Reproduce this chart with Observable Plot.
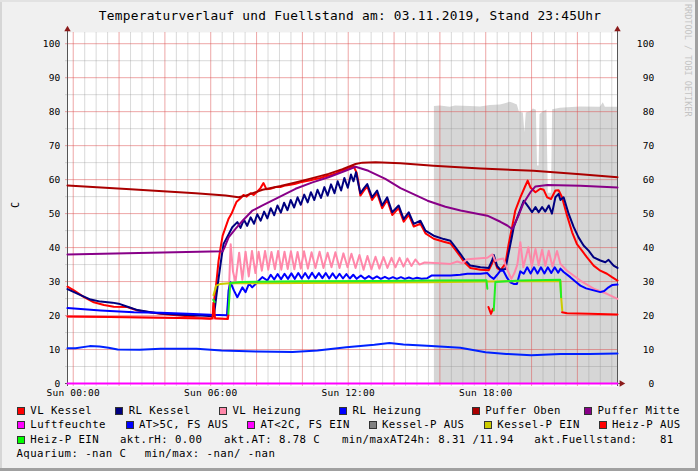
<!DOCTYPE html>
<html><head><meta charset="utf-8">
<script src="https://cdn.jsdelivr.net/npm/d3@7"></script>
<script src="https://cdn.jsdelivr.net/npm/@observablehq/plot@0.6"></script>
<style>
html,body{margin:0;padding:0;background:#f0f0f0;}
#wrap{position:relative;width:698px;height:471px;background:#f0f0f0;overflow:hidden;font-family:"DejaVu Sans Mono",monospace;color:#000;}
#wrap svg{position:absolute;left:0;top:0;}
.t{position:absolute;white-space:pre;line-height:1;transform:translateY(-50%);}
.lg{font-size:10.7px;letter-spacing:0.44px;}
.bx{position:absolute;width:6px;height:6px;border:1px solid #333;transform:translateY(-50%);}
</style>
</head><body>
<div id="wrap"></div>
<script>
// ---- data (hours since Sun 00:00, value) ----
const xDomain = [-0.25, 23.75];
const yDomain = [0, 103.3];
const xLabelHours = [0, 6, 12, 18];
const xLabels = ["Sun 00:00", "Sun 06:00", "Sun 12:00", "Sun 18:00"];
const yTicks = [0, 10, 20, 30, 40, 50, 60, 70, 80, 90, 100];
const majorYGrid = [10, 20, 30, 40, 50, 60, 70, 80, 90, 100];
const minorYGrid = [5, 15, 25, 35, 45, 55, 65, 75, 85, 95];
const majorXGrid = [0, 2, 4, 6, 8, 10, 12, 14, 16, 18, 20, 22];

const fuellstand = [[15.76,81.5],[16.02,81.7],[16.46,81.3],[16.68,81.7],[17.33,81.5],[17.77,81.4],[18.20,81.8],[18.64,82.0],[18.86,82.3],[19.07,82.8],[19.20,82.5],[19.38,82.0],[19.47,79.8],[19.64,79.6],[19.71,73.8],[19.77,79.6],[19.95,80.0],[20.08,80.8],[20.21,80.4],[20.26,64.0],[20.33,64.0],[20.37,79.2],[20.52,80.0],[20.67,80.5],[20.73,56.0],[20.87,56.0],[20.92,80.6],[21.26,81.0],[22.13,81.4],[23.00,81.3],[23.13,82.6],[23.22,81.3],[23.75,81.3]];

const vlKessel = [[-0.25,28.5],[0.03,27.4],[0.47,25.4],[0.90,23.9],[1.34,23.1],[1.77,22.6],[2.36,22.5],[2.80,21.5],[3.81,20.5],[4.98,19.8],[5.99,19.0],[6.08,19.5],[6.14,24.0],[6.25,30.0],[6.34,36.0],[6.43,40.0],[6.52,43.5],[6.65,46.0],[6.78,48.5],[6.91,50.0],[7.00,51.5],[7.13,53.5],[7.30,54.5],[7.43,55.5],[7.57,55.0],[7.74,56.0],[7.87,55.5],[8.04,56.5],[8.17,57.5],[8.30,59.0],[8.43,57.2],[8.61,57.3],[8.83,57.8],[9.04,57.8],[9.26,58.3],[9.48,58.5],[9.70,58.8],[9.92,59.2],[10.13,59.5],[10.35,59.8],[10.57,60.2],[10.79,60.5],[11.01,61.0],[11.22,61.3],[11.44,61.8],[11.66,62.6],[11.88,63.0],[12.10,63.5],[12.23,64.0],[12.37,62.0],[12.45,59.0],[12.53,55.3],[12.69,56.8],[12.83,58.0],[13.04,54.0],[13.26,56.0],[13.48,51.6],[13.70,54.0],[13.92,49.6],[14.20,51.6],[14.42,47.6],[14.64,49.6],[14.86,46.2],[15.15,47.0],[15.37,44.2],[15.73,42.6],[16.17,41.7],[16.46,41.2],[16.68,39.3],[16.90,37.3],[17.04,35.9],[17.33,34.0],[17.77,33.5],[18.13,33.3],[18.28,35.4],[18.35,36.8],[18.50,34.0],[18.64,33.3],[18.86,35.3],[19.00,41.0],[19.15,46.0],[19.29,50.9],[19.51,54.8],[19.73,58.2],[19.83,59.7],[19.95,57.7],[20.17,56.3],[20.38,57.3],[20.53,57.0],[20.68,54.8],[20.85,54.3],[21.04,56.8],[21.18,56.9],[21.33,54.8],[21.55,49.4],[21.77,44.5],[21.98,41.0],[22.20,39.1],[22.42,37.1],[22.71,34.7],[23.00,33.2],[23.29,32.3],[23.51,31.3],[23.75,30.3]];

const rlKessel = [[-0.25,27.8],[0.32,26.0],[0.76,24.7],[1.19,24.1],[1.71,23.8],[1.98,23.5],[2.37,22.6],[2.81,21.6],[3.38,21.0],[3.81,20.6],[4.68,20.2],[5.56,20.0],[6.09,19.8],[6.14,20.0],[6.24,25.4],[6.35,31.3],[6.47,37.1],[6.56,41.1],[6.79,44.0],[6.94,46.0],[7.16,47.5],[7.30,45.8],[7.45,48.2],[7.59,46.4],[7.74,48.9],[7.89,47.0],[8.03,49.8],[8.18,47.9],[8.33,50.6],[8.47,48.6],[8.62,51.6],[8.77,49.5],[8.91,52.4],[9.06,50.3],[9.20,53.2],[9.35,51.0],[9.49,54.0],[9.64,51.8],[9.79,54.8],[9.93,52.6],[10.08,55.6],[10.23,53.3],[10.37,56.3],[10.52,54.0],[10.66,57.0],[10.81,54.6],[10.96,57.8],[11.10,55.3],[11.25,58.6],[11.40,56.0],[11.54,59.5],[11.69,56.8],[11.83,60.5],[11.98,57.6],[12.12,61.5],[12.23,59.5],[12.34,62.2],[12.45,58.5],[12.53,56.0],[12.69,57.5],[12.83,58.7],[13.04,54.8],[13.26,56.8],[13.48,52.4],[13.70,54.8],[13.92,50.4],[14.20,52.4],[14.42,48.4],[14.64,50.4],[14.86,47.0],[15.15,47.9],[15.37,45.0],[15.73,43.5],[16.17,42.5],[16.46,42.0],[16.68,40.1],[16.90,38.1],[17.04,36.7],[17.33,34.7],[17.77,34.2],[18.13,34.0],[18.28,36.2],[18.35,37.8],[18.50,34.5],[18.64,33.5],[18.86,33.7],[19.00,38.5],[19.15,43.5],[19.22,46.0],[19.44,49.9],[19.66,53.8],[19.87,51.9],[20.02,50.4],[20.17,51.9],[20.31,50.4],[20.46,51.9],[20.60,50.6],[20.75,52.4],[20.89,50.0],[21.04,54.8],[21.18,55.8],[21.26,54.0],[21.40,54.8],[21.62,49.9],[21.84,46.0],[22.05,43.0],[22.27,40.6],[22.49,39.1],[22.71,37.1],[23.00,36.2],[23.22,35.7],[23.36,36.4],[23.58,34.7],[23.75,34.0]];

const vlHeizung = [[-0.25,19.7],[2.50,19.5],[5.98,19.1],[6.70,19.0],[6.78,25.0],[6.87,41.0],[6.97,33.0],[7.08,29.8],[7.24,38.5],[7.38,30.5],[7.52,38.8],[7.66,31.5],[7.80,39.0],[7.95,32.5],[8.09,38.8],[8.23,33.2],[8.37,39.0],[8.51,33.5],[8.65,38.7],[8.80,33.6],[8.94,39.0],[9.08,33.5],[9.22,38.8],[9.36,33.7],[9.50,38.9],[9.65,33.6],[9.79,38.7],[9.93,33.8],[10.07,38.9],[10.24,33.8],[10.40,38.6],[10.57,34.0],[10.75,38.8],[10.92,34.0],[11.10,38.5],[11.27,34.2],[11.44,38.6],[11.62,34.0],[11.79,38.3],[11.97,34.2],[12.14,38.2],[12.32,34.0],[12.49,37.8],[12.67,33.5],[12.84,37.5],[13.01,33.6],[13.19,37.3],[13.36,33.8],[13.54,37.2],[13.71,34.0],[13.89,37.0],[14.06,34.2],[14.24,37.0],[14.41,34.4],[14.58,36.8],[14.76,34.6],[14.93,36.5],[15.11,35.0],[15.33,35.6],[15.80,35.5],[16.46,35.2],[16.76,35.9],[16.98,35.4],[17.20,36.6],[18.07,37.0],[18.29,38.0],[18.42,36.0],[18.55,36.5],[18.77,36.8],[18.94,33.5],[19.12,30.8],[19.25,32.5],[19.38,35.0],[19.51,41.6],[19.64,34.2],[19.86,40.1],[20.01,34.5],[20.17,39.6],[20.31,34.8],[20.46,39.4],[20.60,34.6],[20.75,39.1],[20.91,34.4],[21.11,39.0],[21.26,35.2],[21.55,33.2],[22.13,30.3],[22.71,27.9],[23.29,26.4],[23.75,24.9]];

const rlHeizung = [[-0.25,22.2],[1.19,21.5],[2.64,21.0],[3.81,20.8],[4.98,20.5],[5.99,20.2],[6.71,20.1],[6.78,27.4],[6.86,29.8],[7.01,27.4],[7.16,25.4],[7.38,28.3],[7.52,26.9],[7.67,29.4],[7.81,28.3],[8.03,29.8],[8.25,31.3],[8.47,30.3],[8.62,32.0],[8.77,30.6],[8.92,32.2],[9.07,30.7],[9.22,32.3],[9.37,30.8],[9.52,32.4],[9.67,30.8],[9.82,32.5],[9.97,30.9],[10.12,32.5],[10.27,30.9],[10.42,32.6],[10.57,31.0],[10.72,32.5],[10.87,31.0],[11.02,32.5],[11.17,30.9],[11.32,32.4],[11.47,30.9],[11.62,32.3],[11.77,30.9],[11.92,32.2],[12.07,30.9],[12.22,32.0],[12.37,30.8],[12.55,31.8],[12.72,30.8],[12.90,31.6],[13.07,30.8],[13.25,31.5],[13.42,30.8],[13.60,31.4],[13.77,30.8],[13.95,31.3],[14.12,30.8],[14.30,31.3],[14.47,30.8],[14.65,31.2],[14.82,30.8],[15.00,31.1],[15.20,30.8],[15.45,31.0],[15.65,31.8],[16.46,31.8],[16.89,32.0],[17.20,32.3],[17.77,32.3],[18.07,32.5],[18.20,31.5],[18.35,30.8],[18.50,32.0],[18.64,33.2],[18.77,33.2],[18.94,31.0],[19.07,29.8],[19.22,29.3],[19.36,29.3],[19.51,33.0],[19.66,32.3],[19.81,34.2],[19.96,32.4],[20.11,34.2],[20.26,32.4],[20.41,34.2],[20.56,32.4],[20.71,34.2],[20.86,32.5],[21.01,34.2],[21.16,32.6],[21.26,33.8],[21.40,32.8],[21.69,31.3],[21.91,30.0],[22.13,28.8],[22.38,28.0],[22.71,27.4],[23.00,26.9],[23.17,27.2],[23.36,28.3],[23.53,29.0],[23.75,29.1]];

const pufferOben = [[-0.25,58.3],[2.50,57.2],[5.34,56.0],[6.65,55.3],[7.21,54.8],[7.52,55.3],[8.26,57.0],[9.05,58.1],[9.70,59.2],[10.35,60.3],[11.14,61.7],[11.75,63.1],[12.32,64.6],[12.62,65.0],[13.19,65.1],[14.28,64.8],[15.72,64.1],[17.77,63.3],[20.08,62.6],[22.13,61.6],[23.75,60.7]];

const pufferMitte = [[-0.25,38.0],[3.38,38.5],[6.52,38.9],[6.60,40.0],[6.78,43.0],[7.08,45.5],[7.39,47.9],[7.82,50.9],[8.26,52.4],[8.96,54.8],[9.70,57.3],[10.44,59.2],[11.14,60.7],[11.88,62.6],[12.32,63.8],[12.88,62.6],[13.62,60.2],[14.28,57.5],[15.46,53.8],[16.24,52.0],[16.90,50.9],[18.07,49.4],[18.64,47.6],[18.94,46.5],[19.16,45.4],[19.43,49.4],[19.64,53.0],[19.95,56.3],[20.17,58.0],[20.69,58.4],[22.13,58.2],[23.75,57.7]];

const luftfeuchte = [[-0.25,0],[23.75,0]];

const aussenTemp = [[-0.25,10.4],[0.10,10.4],[0.72,11.0],[1.15,10.9],[1.54,10.5],[1.94,10.0],[2.90,9.9],[3.81,10.2],[5.38,10.2],[6.47,9.7],[8.00,9.4],[9.57,9.3],[10.66,9.7],[11.92,10.7],[13.14,11.4],[13.80,11.9],[14.41,11.5],[15.63,11.0],[16.89,10.5],[17.99,9.2],[18.90,8.7],[19.99,8.35],[21.26,8.7],[22.52,8.7],[23.75,8.8]];

const kesselPEin = [[6.12,26.0],[6.24,28.8],[6.43,29.3],[6.78,29.5],[9.92,29.6],[15.59,29.8],[18.07,30.0],[21.26,30.2],[21.29,25.4],[21.34,21.5]];

const heizPAus = [[-0.25,19.7],[2.50,19.5],[5.98,19.1],[6.08,19.2],[6.12,23.8],[6.19,19.2],[6.75,19.0],[6.77,20.2],[6.77,null],[18.12,22.5],[18.23,20.5],[18.32,22.0],[18.32,null],[21.33,21.0],[21.55,20.7],[22.50,20.5],[23.75,20.3]];

const heizPEin = [[6.11,24.6],[6.17,24.0],[6.17,null],[6.77,20.5],[6.85,29.6],[7.30,29.9],[9.92,30.1],[13.40,30.2],[15.59,30.3],[18.03,30.4],[18.07,27.9],[18.07,null],[18.35,21.5],[18.42,29.9],[19.51,30.3],[21.25,30.5],[21.29,25.4]];

const legendRows = [
  [["VL Kessel","#ff0000",30.3],["RL Kessel","#000080",128.7],["VL Heizung","#ff88aa",232.5],["RL Heizung","#0000ff",352.6],["Puffer Oben","#aa0000",485.3],["Puffer Mitte","#880088",597.5]],
  [["Luftfeuchte","#ff00ff",30.3],["AT>5C, FS AUS","#0000ff",139],["AT<2C, FS EIN","#ff00ff",260.5],["Kessel-P AUS","#808080",382],["Kessel-P EIN","#cccc00",497.3],["Heiz-P AUS","#ff0000",612]],
  [["Heiz-P EIN","#00ff00",30.3],["akt.rH: 0.00",null,120],["akt.AT: 8.78 C",null,224],["min/maxAT24h: 8.31 /11.94",null,342],["akt.Fuellstand:",null,534.3],["81",null,660]],
  [["Aquarium: -nan C",null,16.5],["min/max: -nan/ -nan",null,144.7]]
];
const legendRowY = [411.3, 425.4, 439.5, 453.7];
const titleText = "Temperaturverlauf und Fuellstand am: 03.11.2019, Stand 23:45Uhr";

// ---- chart ----
const minorXGrid = d3.range(0, 24, 0.5).filter(h => h % 2 !== 0);
const L = (data, color) => Plot.line(data, {x: d => d[0], y: d => d[1], stroke: color, strokeWidth: 2, strokeLinejoin: "round"});
const axisCol = "#555";
const arrowCol = "#8b1a1a";

const chart = Plot.plot({
  width: 698, height: 400,
  marginLeft: 67, marginRight: 81, marginTop: 32, marginBottom: 17,
  style: {background: "transparent", fontFamily: "'DejaVu Sans Mono', monospace", fontSize: "9.5px", color: "#000", overflow: "visible", letterSpacing: "0.2px"},
  x: {domain: xDomain, axis: null},
  y: {domain: yDomain, axis: null},
  marks: [
    Plot.frame({fill: "white", stroke: "none", insetBottom: -3}),
    Plot.areaY(fuellstand, {x: d => d[0], y: d => d[1], fill: "#d6d6d6"}),
    Plot.ruleX(minorXGrid, {stroke: "#8f8f8f", strokeOpacity: 0.33, insetBottom: -3}),
    Plot.ruleY(minorYGrid, {stroke: "#8f8f8f", strokeOpacity: 0.33, insetLeft: -2}),
    Plot.ruleX(majorXGrid, {stroke: "#de5050", strokeOpacity: 0.5, insetBottom: -3}),
    Plot.ruleY(majorYGrid, {stroke: "#de5050", strokeOpacity: 0.5, insetLeft: -2}),
    Plot.ruleX([xDomain[0], xDomain[1]], {stroke: axisCol, insetTop: -5, insetBottom: -3}),
    Plot.ruleY([0], {stroke: axisCol, insetLeft: -2, insetRight: -4}),
    L(vlKessel, "#ff0000"),
    L(rlKessel, "#000080"),
    L(vlHeizung, "#ff88aa"),
    L(rlHeizung, "#0000ff"),
    L(pufferOben, "#aa0000"),
    L(pufferMitte, "#880088"),
    L(luftfeuchte, "#ff00ff"),
    L(aussenTemp, "#0022ff"),
    L(kesselPEin, "#cccc00"),
    L(heizPAus, "#ff0000"),
    L(heizPEin, "#22ee22"),
    Plot.dot([xDomain[0], xDomain[1]], {x: d => d, y: () => yDomain[1], dy: -3, symbol: "triangle", r: 2.4, fill: arrowCol, stroke: "none"}),
    Plot.dot([xDomain[1]], {x: d => d, y: () => 0, dx: 4, rotate: 90, symbol: "triangle", r: 2.4, fill: arrowCol, stroke: "none"}),
    Plot.text(yTicks, {y: d => d, text: d => String(d), frameAnchor: "left", dx: -7, textAnchor: "end", fill: "#000"}),
    Plot.text(yTicks, {y: d => d, text: d => String(d), frameAnchor: "right", dx: 37, textAnchor: "end", fill: "#000"}),
    Plot.text(xLabelHours, {x: d => d, text: (d, i) => xLabels[i], frameAnchor: "bottom", dy: 12.5, fill: "#000"}),
    Plot.text(["C"], {frameAnchor: "left", dx: -52, rotate: -90, text: d => d, fill: "#000", fontSize: 10})
  ]
});

const wrap = document.getElementById("wrap");
wrap.appendChild(chart);

function addDiv(cls, text, left, top, extra) {
  const el = document.createElement("div");
  el.className = cls;
  if (text != null) el.textContent = text;
  el.style.left = left + "px";
  el.style.top = top + "px";
  if (extra) Object.assign(el.style, extra);
  wrap.appendChild(el);
  return el;
}

// title
addDiv("t", titleText, 0, 16.2, {width: "700px", textAlign: "center", fontSize: "12.8px", letterSpacing: "0.27px"});
// watermark
addDiv("", "RRDTOOL / TOBI OETIKER", 683, 4, {position: "absolute", writingMode: "vertical-rl", fontSize: "8.5px", color: "#c4c4c4", lineHeight: "1", whiteSpace: "pre"});
// legend
legendRows.forEach((row, r) => {
  const y = legendRowY[r];
  row.forEach(([label, color, x]) => {
    if (color) addDiv("bx", null, x - 13.5, y, {background: color});
    addDiv("t lg", label, x, y);
  });
});
// frame shading
addDiv("", null, 0, 0, {position: "absolute", width: "2px", height: "471px", background: "#d6d6d6"});
addDiv("", null, 0, 0, {position: "absolute", width: "698px", height: "2px", background: "#e2e2e2"});
addDiv("", null, 695, 0, {position: "absolute", width: "3px", height: "471px", background: "#a0a0a0"});
addDiv("", null, 0, 468, {position: "absolute", width: "698px", height: "3px", background: "#a0a0a0"});
</script>
</body></html>
